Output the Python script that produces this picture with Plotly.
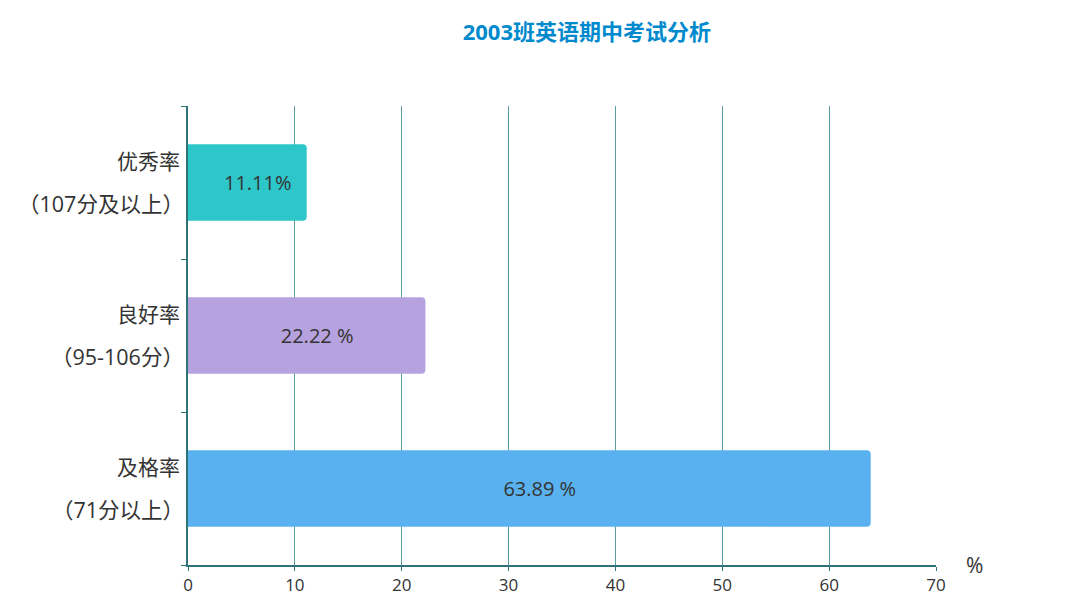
import plotly.graph_objects as go

# data
categories = ["及格率", "良好率", "优秀率"]
sub_labels = ["（71分以上）", "（95-106分）", "（107分及以上）"]
values = [63.89, 22.22, 11.11]
value_text = ["63.89 %", "22.22 %", "11.11%"]
colors = ["#5ab1ef", "#b6a2de", "#2ec7c9"]
x_ticks = [0, 10, 20, 30, 40, 50, 60, 70]

FONT = "Open Sans, Noto Sans CJK SC"
GRID = "#5a9ea3"
AXIS = "#2e7378"

# labels sit a bit right of the bar centre in the original
pad = "\u00a0" * 4

fig = go.Figure()
fig.add_trace(go.Bar(
    y=categories, x=values, orientation="h",
    marker=dict(color=colors, line=dict(width=0)),
    width=0.5,
    text=[pad + t for t in value_text], textposition="inside", insidetextanchor="middle",
    textfont=dict(family=FONT, size=20, color="#333333"),
    hoverinfo="skip",
))

# two-line category labels on the left
for cat, sub in zip(categories, sub_labels):
    fig.add_annotation(x=0, y=cat, xref="paper", yref="y", text=cat,
                       xanchor="right", yanchor="middle", xshift=-6, yshift=22,
                       showarrow=False, font=dict(family=FONT, size=21, color="#333333"))
    fig.add_annotation(x=0, y=cat, xref="paper", yref="y", text=sub,
                       xanchor="right", yanchor="middle", xshift=-2, yshift=-21,
                       showarrow=False, font=dict(family=FONT, size=21.5, color="#333333"))

fig.add_annotation(x=1, y=0, xref="paper", yref="paper", text="%",
                   xanchor="left", yanchor="middle", xshift=28, yshift=0,
                   showarrow=False, font=dict(family=FONT, size=21, color="#333333"))

fig.update_layout(
    width=1072, height=612,
    margin=dict(l=180, r=144, t=98, b=55),
    paper_bgcolor="white", plot_bgcolor="white",
    barcornerradius=4,
    showlegend=False,
    title=dict(text="<b>2003班英语期中考试分析</b>", x=0.540, xanchor="center",
               y=0.961, yanchor="middle",
               font=dict(family=FONT, size=22, color="#008acd")),
)
fig.update_xaxes(
    range=[0, 70], tickvals=x_ticks, showgrid=True, gridcolor=GRID, gridwidth=1,
    zeroline=False, showline=True, linecolor=AXIS, linewidth=1.5,
    ticks="outside", ticklen=4, tickcolor=AXIS,
    tickfont=dict(family=FONT, size=17, color="#333333"),
    fixedrange=True,
)
fig.update_yaxes(
    showticklabels=False, showgrid=False, showline=True, linecolor=AXIS, linewidth=1.5,
    ticks="outside", ticklen=5, tickcolor=AXIS, tickson="boundaries",
    range=[-0.5, 2.5], fixedrange=True,
)

fig.write_html("out.html")
